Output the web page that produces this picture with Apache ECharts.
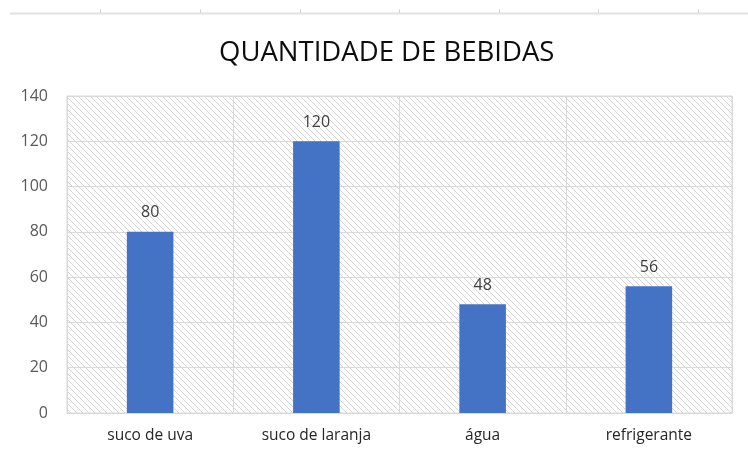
<!DOCTYPE html>
<html>
<head>
<meta charset="utf-8">
<script src="https://cdn.jsdelivr.net/npm/echarts@6/dist/echarts.min.js"></script>
<style>html,body{margin:0;padding:0;background:#fff}#c{width:748px;height:456px}</style>
</head>
<body>
<div id="c"></div>
<script>
const title = 'QUANTIDADE DE BEBIDAS';
const categories = ['suco de uva', 'suco de laranja', 'água', 'refrigerante'];
const values = [80, 120, 48, 56];
const yTicks = [0, 20, 40, 60, 80, 100, 120, 140];

// hatch pattern for plot background
const pc = document.createElement('canvas');
pc.width = 6; pc.height = 6;
const ctx = pc.getContext('2d');
ctx.fillStyle = '#ffffff';
ctx.fillRect(0, 0, 6, 6);
ctx.strokeStyle = '#d4d4d4';
ctx.lineWidth = 1;
ctx.beginPath();
ctx.moveTo(-1, -1); ctx.lineTo(7, 7);
ctx.moveTo(-4, 2); ctx.lineTo(4, 10);
ctx.moveTo(2, -4); ctx.lineTo(10, 4);
ctx.stroke();

const topDeco = [{
  type: 'line', shape: {x1: 10, y1: 13.5, x2: 748, y2: 13.5},
  style: {stroke: '#e2e2e2', lineWidth: 2}, silent: true
}];
[100, 200, 300, 399, 499, 598, 698].forEach(x => {
  topDeco.push({type: 'line', shape: {x1: x + 0.5, y1: 9, x2: x + 0.5, y2: 13}, style: {stroke: '#d6d6d6', lineWidth: 1}, silent: true});
});

const chart = echarts.init(document.getElementById('c'), null, {renderer: 'canvas'});
chart.setOption({
  animation: false,
  backgroundColor: '#ffffff',
  graphic: topDeco,
  title: {
    text: title, left: 214, top: 34,
    textStyle: {fontFamily: 'Open Sans', fontSize: 27.5, fontWeight: 'normal', color: '#0d0d0d'}
  },
  grid: {
    left: 67, right: 16, top: 96, bottom: 43, show: true,
    backgroundColor: {image: pc, repeat: 'repeat'}, borderColor: '#d9d9d9', borderWidth: 1
  },
  xAxis: {
    type: 'category', data: categories,
    axisLine: {show: true, lineStyle: {color: '#d9d9d9', width: 1}},
    axisTick: {show: false},
    splitLine: {show: true, lineStyle: {color: '#d9d9d9', width: 1}},
    axisLabel: {fontFamily: 'Open Sans', fontSize: 15.5, color: '#262626', margin: 15}
  },
  yAxis: {
    type: 'value', min: yTicks[0], max: yTicks[yTicks.length - 1], interval: 20,
    axisLine: {show: false}, axisTick: {show: false},
    splitLine: {show: true, lineStyle: {color: '#d9d9d9', width: 1}},
    axisLabel: {fontFamily: 'Open Sans', fontSize: 16, color: '#595959', margin: 19}
  },
  series: [{
    type: 'bar', data: values, barWidth: '28%',
    itemStyle: {color: '#4472c4'},
    label: {show: true, position: 'top', distance: 11, fontFamily: 'Open Sans', fontSize: 16, color: '#404040'}
  }]
});
</script>
</body>
</html>
